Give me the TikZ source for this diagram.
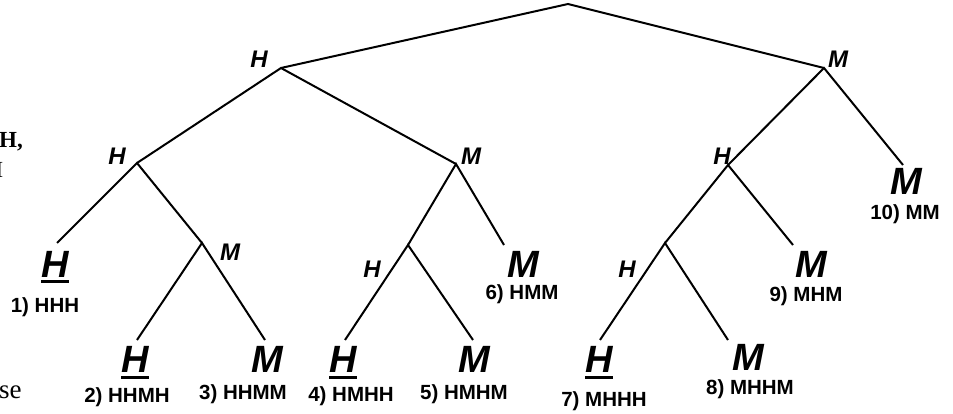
\documentclass[tikz,border=0pt]{standalone}
\usepackage{fontspec}
\setmainfont{Liberation Sans}
\newfontfamily\serifpart{Liberation Serif}
\begin{document}
\begin{tikzpicture}[x=1pt,y=-1pt,
  edge/.style={line width=2pt},
  brlab/.style={font=\fontsize{24}{24}\selectfont\bfseries\itshape, inner sep=0pt, anchor=base},
  leaf/.style={font=\fontsize{38}{38}\selectfont\bfseries\itshape, inner sep=0pt, anchor=base},
  num/.style={font=\fontsize{20.5}{20.5}\selectfont\bfseries, inner sep=0pt, anchor=base},
  uline/.style={line width=3pt},
  frag/.style={font=\serifpart\fontsize{23}{23}\selectfont, inner sep=0pt}]
\useasboundingbox (0,0) rectangle (953,414);

% junctions
\coordinate (R) at (568,4);
\coordinate (A) at (281,68);
\coordinate (B) at (824,68);
\coordinate (AA) at (137,163);
\coordinate (AB) at (456,164);
\coordinate (BA) at (728,165);
\coordinate (AAB) at (202,243);
\coordinate (ABA) at (408,245);
\coordinate (BAA) at (665,243);
% branch ends above leaves
\coordinate (eAAA) at (57,243);
\coordinate (eAABA) at (137,340);
\coordinate (eAABB) at (265,340);
\coordinate (eABAA) at (345,340);
\coordinate (eABAB) at (473,340);
\coordinate (eABB) at (504,245);
\coordinate (eBAAA) at (600,340);
\coordinate (eBAAB) at (728,340);
\coordinate (eBAB) at (793,245);
\coordinate (eBB) at (903,165);

% edges
\draw[edge] (A) -- (R) -- (B);
\draw[edge] (AA) -- (A) -- (AB);
\draw[edge] (eAAA) -- (AA) -- (AAB);
\draw[edge] (eAABA) -- (AAB) -- (eAABB);
\draw[edge] (ABA) -- (AB) -- (eABB);
\draw[edge] (eABAA) -- (ABA) -- (eABAB);
\draw[edge] (BA) -- (B) -- (eBB);
\draw[edge] (BAA) -- (BA) -- (eBAB);
\draw[edge] (eBAAA) -- (BAA) -- (eBAAB);

% branch labels
\node[brlab] (lA) at (259,68) {H};
\node[brlab] (lB) at (838,68) {M};
\node[brlab] (lAA) at (117,165) {H};
\node[brlab] (lAB) at (471,165) {M};
\node[brlab] (lBA) at (722,165) {H};
\node[brlab] (lAAB) at (230,260) {M};
\node[brlab] (lABA) at (372,277) {H};
\node[brlab] (lBAA) at (627,277) {H};

% leaves
\node[leaf] (h1) at (55,277) {H};
\node[leaf] (h2) at (135,372) {H};
\node[leaf] (m3) at (267,372) {M};
\node[leaf] (h4) at (343,372) {H};
\node[leaf] (m5) at (474,372) {M};
\node[leaf] (m6) at (523,277) {M};
\node[leaf] (h7) at (599,372) {H};
\node[leaf] (m8) at (748,370) {M};
\node[leaf] (m9) at (811,277) {M};
\node[leaf] (m10) at (906,195) {M};

% underlines
\draw[uline] ([yshift=-4.5pt]h1.base west) -- ([yshift=-4.5pt]h1.base east);
\draw[uline] ([yshift=-5.5pt]h2.base west) -- ([yshift=-5.5pt]h2.base east);
\draw[uline] ([yshift=-5.5pt]h4.base west) -- ([yshift=-5.5pt]h4.base east);
\draw[uline] ([yshift=-5.5pt]h7.base west) -- ([yshift=-5.5pt]h7.base east);

% numbered outcomes
\node[num] (n1) at (45,312) {1) HHH};
\node[num] (n2) at (127,402) {2) HHMH};
\node[num] (n3) at (243,399) {3) HHMM};
\node[num] (n4) at (351,401) {4) HMHH};
\node[num] (n5) at (464,399) {5) HMHM};
\node[num] (n6) at (522,299) {6) HMM};
\node[num] (n7) at (604,406) {7) MHHH};
\node[num] (n8) at (750,394) {8) MHHM};
\node[num] (n9) at (806,301) {9) MHM};
\node[num] (n10) at (905,220) {10) MM};

% clipped fragments of surrounding page text
\node[frag, font=\serifpart\bfseries\fontsize{23}{23}\selectfont, anchor=base west] (f1) at (-1,148) {H,};
\node[frag, anchor=base east] (f2) at (3.5,178) {I};
\node[frag, font=\serifpart\fontsize{27}{27}\selectfont, anchor=base west] (f3) at (-1,398) {se};
\end{tikzpicture}
\end{document}
